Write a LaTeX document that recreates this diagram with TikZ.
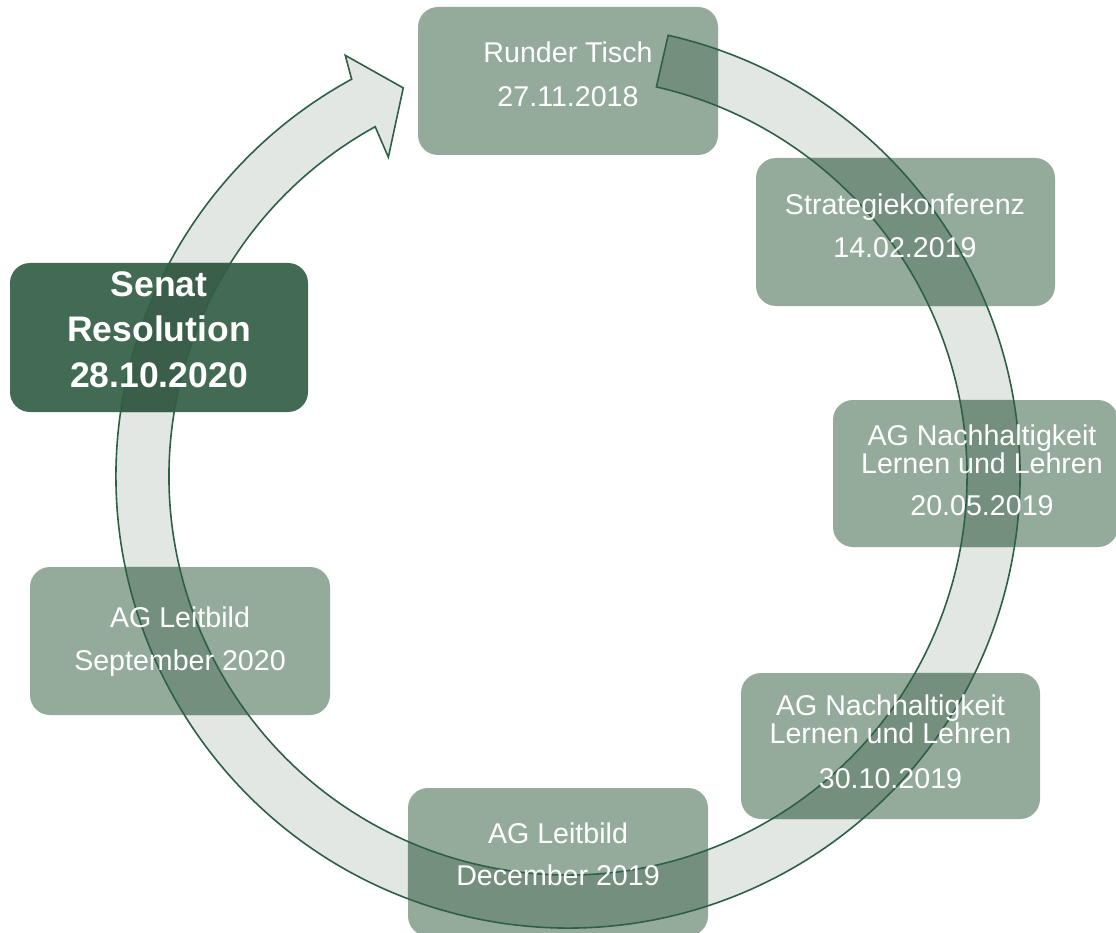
\documentclass[tikz,border=0pt]{standalone}
\usepackage{fontspec}
\setmainfont{Liberation Sans}
\definecolor{boxgreen}{RGB}{148,171,156}
\definecolor{boxdeep}{RGB}{116,143,126}
\definecolor{senatgreen}{RGB}{67,106,83}
\definecolor{senatdeep}{RGB}{58,94,73}
\definecolor{ringfill}{RGB}{226,231,227}
\definecolor{ringline}{RGB}{46,96,70}
% ring-shaped arrow around the centre (568,-476), running clockwise
\newcommand\ringpath{(77.2:452) arc[start angle=77.2, end angle=-241.4, radius=452]
  -- (-242.1:476) -- (-247:421.6) -- (-240.6:366) -- (-241.1:399)
  arc[start angle=-241.1, end angle=77.2, radius=399] -- cycle}
\tikzset{
  stagebox/.style={rectangle, rounded corners=20pt, inner sep=0pt, fill=boxgreen},
  senatbox/.style={stagebox, fill=senatgreen},
  lbl/.style={anchor=base, inner sep=0pt, text=white, font=\fontsize{28.6}{34}\selectfont},
  blbl/.style={lbl, font=\fontsize{35.5}{40}\selectfont\bfseries},
  ringshift/.style={shift={(568,-476)}}
}
\begin{document}
\begin{tikzpicture}[x=1pt,y=1pt]
\useasboundingbox (0,0) rectangle (1116,-933);
\clip (0,0) rectangle (1116,-933);
% ring body
\fill[ringfill, ringshift] \ringpath;
% stage boxes
\node[stagebox, minimum width=300pt, minimum height=148pt] (b1) at (568,-81) {};
\node[stagebox, minimum width=299pt, minimum height=148pt] (b2) at (905.5,-232) {};
\node[stagebox, minimum width=285pt, minimum height=147pt] (b3) at (975.5,-473.5) {};
\node[stagebox, minimum width=299pt, minimum height=146pt] (b4) at (890.5,-746) {};
\node[stagebox, minimum width=300pt, minimum height=148pt] (b5) at (558,-862) {};
\node[stagebox, minimum width=300pt, minimum height=148pt] (b6) at (180,-641) {};
\node[senatbox, minimum width=298pt, minimum height=149pt] (b7) at (159,-337.5) {};
% ring seen through the boxes
\foreach \b in {b1,b2,b3,b4,b5,b6}{
  \begin{scope}
    \clip[rounded corners=20pt] (\b.south west) rectangle (\b.north east);
    \fill[boxdeep, ringshift] \ringpath;
  \end{scope}
}
\begin{scope}
  \clip[rounded corners=20pt] (b7.south west) rectangle (b7.north east);
  \fill[senatdeep, ringshift] \ringpath;
\end{scope}
% ring outline
\draw[ringline, line width=1.6pt, ringshift] \ringpath;
% labels
\node[lbl] (t1a) at (568,-63) {Runder Tisch};
\node[lbl] (t1b) at (568,-107) {27.11.2018};
\node[lbl] (t2a) at (905,-215) {Strategiekonferenz};
\node[lbl] (t2b) at (905,-258) {14.02.2019};
\node[lbl] (t3a) at (982,-445) {AG Nachhaltigkeit};
\node[lbl] (t3b) at (982,-473) {Lernen und Lehren};
\node[lbl] (t3c) at (982,-515) {20.05.2019};
\node[lbl] (t4a) at (890.5,-715) {AG Nachhaltigkeit};
\node[lbl] (t4b) at (890.5,-743) {Lernen und Lehren};
\node[lbl] (t4c) at (890.5,-788) {30.10.2019};
\node[lbl] (t5a) at (558,-843) {AG Leitbild};
\node[lbl] (t5b) at (558,-885) {December 2019};
\node[lbl] (t6a) at (180,-627) {AG Leitbild};
\node[lbl] (t6b) at (180,-670) {September 2020};
\node[blbl] (t7a) at (159,-297) {Senat};
\node[blbl] (t7b) at (159,-341) {Resolution};
\node[blbl] (t7c) at (159,-387) {28.10.2020};
\end{tikzpicture}
\end{document}
